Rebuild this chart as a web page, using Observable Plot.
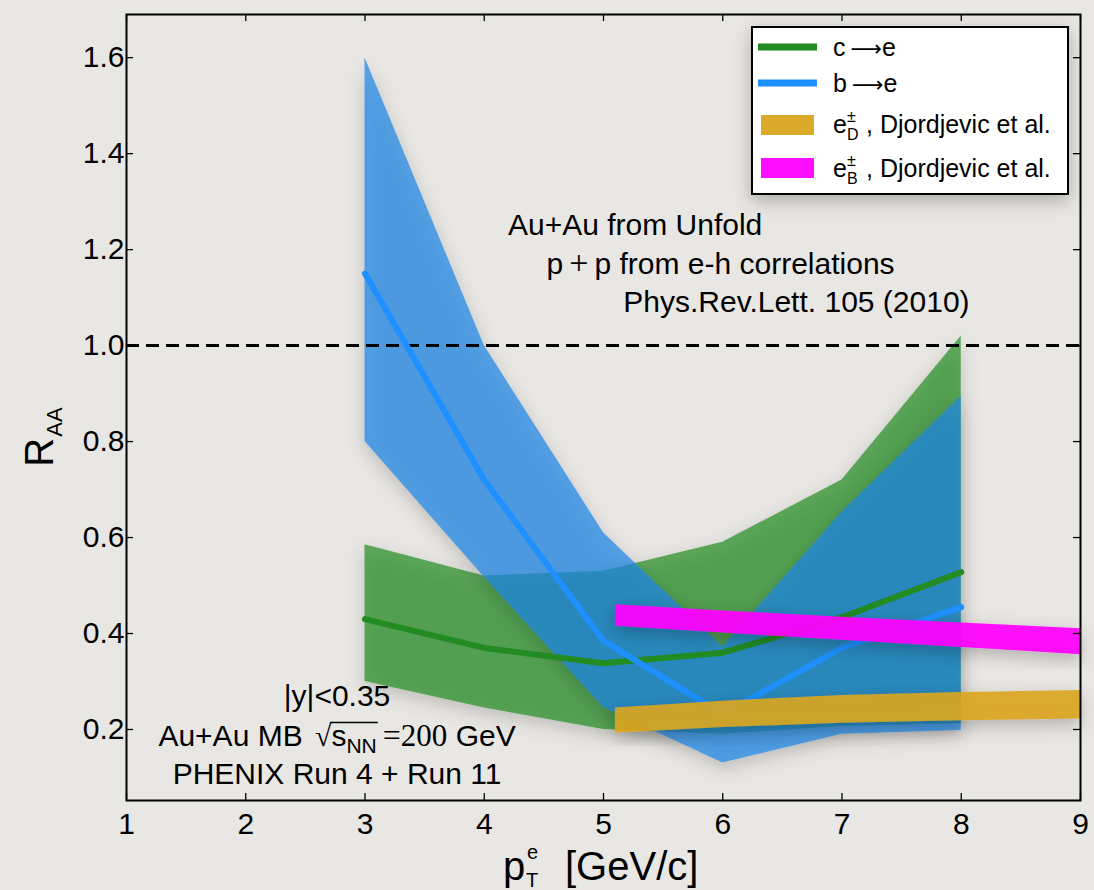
<!DOCTYPE html>
<html>
<head>
<meta charset="utf-8">
<script src="https://cdn.jsdelivr.net/npm/d3@7"></script>
<script src="https://cdn.jsdelivr.net/npm/@observablehq/plot@0.6"></script>
<style>
  html, body { margin: 0; padding: 0; background: #e9e7e3; }
  #chart { width: 1094px; height: 890px; }
</style>
</head>
<body>
<div id="chart"></div>
<script>
// Measured pT bins (GeV/c)
const pt = [3, 4, 5, 6, 7, 8];
// c -> e : RAA central value and uncertainty band
const cCentral = [0.43, 0.37, 0.338, 0.36, 0.434, 0.528];
const cUpper   = [0.585, 0.52, 0.53, 0.59, 0.72, 1.02];
const cLower   = [0.30, 0.245, 0.20, 0.19, 0.206, 0.212];
// b -> e : RAA central value and uncertainty band
const bCentral = [1.15, 0.72, 0.385, 0.232, 0.37, 0.455];
const bUpper   = [1.60, 1.00, 0.61, 0.372, 0.653, 0.895];
const bLower   = [0.80, 0.517, 0.246, 0.13, 0.19, 0.198];
// Djordjevic et al. predictions
const theoryPt = [5.1, 6, 7, 8, 9];
const eDLower  = [0.192, 0.204, 0.213, 0.218, 0.222];
const eDUpper  = [0.245, 0.259, 0.271, 0.277, 0.281];
const eBLower  = [0.415, 0.401, 0.386, 0.371, 0.356];
const eBUpper  = [0.460, 0.447, 0.434, 0.422, 0.410];
// Axis ticks
const xTicks = [1, 2, 3, 4, 5, 6, 7, 8, 9];
const yTicks = [0.2, 0.4, 0.6, 0.8, 1.0, 1.2, 1.4, 1.6];

const green = "#228b22", blue = "#1e90ff", blueFill = "#1f84e6", gold = "#daa520", magenta = "#ff00ff";
const sans = "'Liberation Sans', Arial, Helvetica, sans-serif";
const serif = "'Liberation Serif', 'DejaVu Serif', serif";

const cBand = pt.map((x, i) => ({x, lo: cLower[i], hi: cUpper[i], mid: cCentral[i]}));
const bBand = pt.map((x, i) => ({x, lo: bLower[i], hi: bUpper[i], mid: bCentral[i]}));
const eD = theoryPt.map((x, i) => ({x, lo: eDLower[i], hi: eDUpper[i]}));
const eB = theoryPt.map((x, i) => ({x, lo: eBLower[i], hi: eBUpper[i]}));

const W = 1094, H = 890;
const M = {top: 14, right: 14, bottom: 90, left: 126};
const innerW = W - M.left - M.right, innerH = H - M.top - M.bottom;
const tickLen = 7;

const chart = Plot.plot({
  width: W, height: H,
  marginTop: M.top, marginRight: M.right, marginBottom: M.bottom, marginLeft: M.left,
  style: {background: "transparent", fontFamily: sans, color: "black", overflow: "visible"},
  x: {domain: [1, 9]},
  y: {domain: [0.052, 1.69]},
  marks: [
    Plot.areaY(cBand, {x: "x", y1: "lo", y2: "hi", fill: green, fillOpacity: 0.7}),
    Plot.areaY(bBand, {x: "x", y1: "lo", y2: "hi", fill: blueFill, fillOpacity: 0.7}),
    Plot.ruleY([1], {stroke: "black", strokeWidth: 3, strokeDasharray: "13,7"}),
    Plot.lineY(cBand, {x: "x", y: "mid", stroke: green, strokeWidth: 6}),
    Plot.lineY(bBand, {x: "x", y: "mid", stroke: blue, strokeWidth: 6}),
    Plot.areaY(eD, {x: "x", y1: "lo", y2: "hi", fill: gold, fillOpacity: 0.9}),
    Plot.areaY(eB, {x: "x", y1: "lo", y2: "hi", fill: magenta, fillOpacity: 0.92}),
    Plot.frame({stroke: "black", strokeWidth: 2}),
    // inward ticks on all four sides
    Plot.tickX(xTicks, {x: d => d, insetTop: innerH - tickLen, stroke: "black", strokeWidth: 1.3}),
    Plot.tickX(xTicks, {x: d => d, insetBottom: innerH - tickLen, stroke: "black", strokeWidth: 1.3}),
    Plot.tickY(yTicks, {y: d => d, insetRight: innerW - tickLen, stroke: "black", strokeWidth: 1.3}),
    Plot.tickY(yTicks, {y: d => d, insetLeft: innerW - tickLen, stroke: "black", strokeWidth: 1.3}),
    Plot.axisX(xTicks, {tickSize: 0, tickPadding: 12, fontSize: 30, label: null, tickFormat: d => String(d)}),
    Plot.axisY(yTicks, {tickSize: 0, tickPadding: 2, fontSize: 30, label: null, tickFormat: d3.format(".1f")})
  ]
});

document.getElementById("chart").append(chart);

const svg = d3.select(chart);
const sx = chart.scale("x"), sy = chart.scale("y");

// soft paper shadow under the bands and the legend
const defs = svg.insert("defs", ":first-child");
defs.append("filter").attr("id", "soft").attr("x", "-20%").attr("y", "-20%").attr("width", "140%").attr("height", "150%")
  .append("feDropShadow").attr("dx", 0).attr("dy", 6).attr("stdDeviation", 9)
  .attr("flood-color", "#000").attr("flood-opacity", 0.26);
svg.selectAll('g[aria-label="area"]').attr("filter", "url(#soft)");

// text helper: parts = [{t, size, dx, dy, family}]
function label(g, x, y, parts, {anchor = "start", size = 30, family = sans} = {}) {
  const t = g.append("text").attr("x", x).attr("y", y)
    .attr("text-anchor", anchor).attr("font-size", size).attr("font-family", family).attr("fill", "black");
  for (const p of parts) {
    const s = t.append("tspan").text(p.t);
    if (p.size) s.attr("font-size", p.size);
    if (p.dx) s.attr("dx", p.dx);
    if (p.dy) s.attr("dy", p.dy);
    if (p.family) s.attr("font-family", p.family);
  }
  return t;
}

const ann = svg.append("g");

// analysis notes
label(ann, sx.apply(4.203), sy.apply(1.229), [{t: "Au+Au from Unfold"}]);
label(ann, sx.apply(4.527), sy.apply(1.149), [
  {t: "p"}, {t: "+", family: serif, size: 34, dx: 6}, {t: "p from e-h correlations", dx: 6}
]);
label(ann, sx.apply(5.17), sy.apply(1.069), [{t: "Phys.Rev.Lett. 105 (2010)"}]);

// collision system notes
const cx = sx.apply(2.77);
label(ann, cx, sy.apply(0.248), [{t: "|y|<0.35"}], {anchor: "middle"});
const sqrtLine = label(ann, cx, sy.apply(0.1646), [
  {t: "Au+Au MB "},
  {t: "\u221A", family: serif, dx: 4},
  {t: "s"},
  {t: "NN", size: 21, dy: 7},
  {t: "=", family: serif, size: 32, dy: -7, dx: 6},
  {t: "200", family: serif, size: 31},
  {t: " GeV"}
], {anchor: "middle"});
label(ann, cx, sy.apply(0.0854), [{t: "PHENIX Run 4 + Run 11"}], {anchor: "middle"});

// radical bar over s_NN
{
  const node = sqrtLine.node();
  const r = node.getExtentOfChar(9), e = node.getExtentOfChar(12);
  const yb = sy.apply(0.1646) - 23.5;
  ann.append("line").attr("x1", r.x + r.width - 1.5).attr("x2", e.x + e.width + 1)
    .attr("y1", yb).attr("y2", yb).attr("stroke", "black").attr("stroke-width", 1.5);
}

// axis titles
const xc = sx.apply(5);
label(ann, xc - 100, 880, [{t: "p"}], {size: 40});
label(ann, xc - 76, 859, [{t: "e"}], {size: 20});
label(ann, xc - 77, 887, [{t: "T"}], {size: 20});
label(ann, xc - 38, 880, [{t: "[GeV/c]"}], {size: 40});

const yl = ann.append("text").attr("transform", "translate(53,437) rotate(-90)")
  .attr("font-family", sans).attr("font-size", 40).attr("fill", "black");
yl.append("tspan").text("R");
yl.append("tspan").text("AA").attr("font-size", 22).attr("dy", 9).attr("dx", 1);

// legend
const lg = svg.append("g");
lg.append("rect").attr("x", 752).attr("y", 27).attr("width", 316).attr("height", 167)
  .attr("fill", "white").attr("stroke", "black").attr("stroke-width", 2).attr("filter", "url(#soft)");
lg.append("line").attr("x1", 758).attr("x2", 817).attr("y1", 47).attr("y2", 47).attr("stroke", green).attr("stroke-width", 7);
lg.append("line").attr("x1", 758).attr("x2", 817).attr("y1", 83).attr("y2", 83).attr("stroke", blue).attr("stroke-width", 7);
lg.append("rect").attr("x", 761).attr("y", 115).attr("width", 53).attr("height", 20).attr("fill", gold).attr("fill-opacity", 0.95);
lg.append("rect").attr("x", 761).attr("y", 158).attr("width", 53).attr("height", 20).attr("fill", magenta).attr("fill-opacity", 0.95);

const arrowFont = "'DejaVu Sans', sans-serif";
label(lg, 833, 56, [{t: "c"}, {t: "\u27F6", family: arrowFont, size: 22, dx: 5}, {t: "e"}], {size: 25});
label(lg, 833, 92, [{t: "b"}, {t: "\u27F6", family: arrowFont, size: 22, dx: 5}, {t: "e"}], {size: 25});

function theoryEntry(y, sub) {
  label(lg, 833, y, [{t: "e"}], {size: 25});
  label(lg, 847, y - 11, [{t: "\u00B1"}], {size: 16});
  label(lg, 847, y + 7, [{t: sub}], {size: 16});
  label(lg, 866, y, [{t: ", Djordjevic et al."}], {size: 25});
}
theoryEntry(133, "D");
theoryEntry(177, "B");
</script>
</body>
</html>
